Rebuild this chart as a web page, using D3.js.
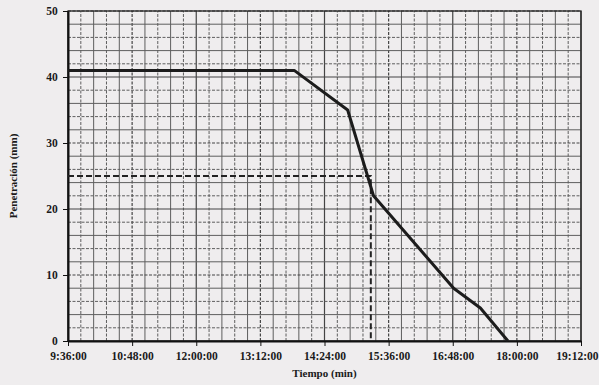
<!DOCTYPE html>
<html><head><meta charset="utf-8">
<script src="https://cdn.jsdelivr.net/npm/d3@7"></script>
<style>
html,body{margin:0;padding:0;background:#efedee;}
svg{display:block;}
</style></head>
<body>
<script>
const times = ["9:36:00","13:50:00","14:50:00","15:19:00","16:49:00","17:19:00","17:50:00"];
const penetration = [41, 41, 35, 22, 8, 5, 0];
const refTime = ["15:16:00"];
const refValue = [25];
const xTickLabels = ["9:36:00","10:48:00","12:00:00","13:12:00","14:24:00","15:36:00","16:48:00","18:00:00","19:12:00"];
const yTicks = [0,10,20,30,40,50];

const W = 599, H = 385;
const m = {left:68, right:18, top:11, bottom:44};
const parse = s => { const [h,mi,se] = s.split(":").map(Number); return new Date(2020,0,1,h,mi,se); };

const svg = d3.select("body").append("svg").attr("width",W).attr("height",H);
svg.append("rect").attr("width",W).attr("height",H).attr("fill","#efedee");

const x = d3.scaleTime().domain([parse(xTickLabels[0]), parse(xTickLabels[xTickLabels.length-1])]).range([m.left, W-m.right]);
const y = d3.scaleLinear().domain([0,50]).range([H-m.bottom, m.top]);

const g = svg.append("g");
const step = 14.4*60*1000;
const t0 = x.domain()[0].getTime(), t1 = x.domain()[1].getTime();
const vlines = d3.range(0, Math.round((t1-t0)/step)+1).map(i => new Date(t0 + i*step));
g.selectAll("line.v").data(vlines).join("line")
  .attr("x1",d=>x(d)).attr("x2",d=>x(d)).attr("y1",y(0)).attr("y2",y(50))
  .attr("stroke",(d,i)=> i%5===0 ? "#444" : "#5e5e5e")
  .attr("stroke-width",(d,i)=> i%5===0 ? 1.2 : 1)
  .attr("stroke-dasharray",(d,i)=> i%2===1 ? "3,1.5" : null);
const hvals = d3.range(0,51,2);
g.selectAll("line.h").data(hvals).join("line")
  .attr("x1",x.range()[0]).attr("x2",x.range()[1]).attr("y1",d=>y(d)).attr("y2",d=>y(d))
  .attr("stroke",d=> d%10===0 ? "#444" : "#5e5e5e")
  .attr("stroke-width",d=> d%10===0 ? 1.2 : 1)
  .attr("stroke-dasharray",d=> (d/2)%2===1 ? "3,1.5" : null);

g.append("rect").attr("x",x.range()[0]).attr("y",y(50)).attr("width",x.range()[1]-x.range()[0]).attr("height",y(0)-y(50))
  .attr("fill","none").attr("stroke","#222").attr("stroke-width",1.3);

const xAxis = d3.axisBottom(x).tickValues(xTickLabels.map(parse)).tickFormat((d,i)=>xTickLabels[i]).tickSize(5).tickSizeOuter(0);
const ax = svg.append("g").attr("transform",`translate(0,${y(0)})`).call(xAxis);
const yAxis = d3.axisLeft(y).tickValues(yTicks).tickSize(5).tickSizeOuter(0);
const ay = svg.append("g").attr("transform",`translate(${m.left},0)`).call(yAxis);
[ax,ay].forEach(a=>{
  a.select(".domain").attr("stroke","#111").attr("stroke-width",2);
  a.selectAll(".tick line").attr("stroke","#111");
  a.selectAll("text").attr("font-family","Liberation Serif, Times New Roman, serif").attr("font-size",11.5).attr("fill","#1a1a1a").attr("font-weight","bold");
});
ax.selectAll("text").attr("dy","0.95em");
ax.selectAll(".tick text").filter((d,i,n)=>i===n.length-1).attr("text-anchor","end").attr("x",17);
ay.selectAll("text").attr("dx","-0.2em");

const rt = parse(refTime[0]), rv = refValue[0];
svg.append("path").attr("d", d3.line()([[x.range()[0], y(rv)],[x(rt), y(rv)],[x(rt), y(0)]]))
  .attr("fill","none").attr("stroke","#222").attr("stroke-width",2).attr("stroke-dasharray","6,3");

const data = times.map((t,i)=>[parse(t), penetration[i]]);
svg.append("path").datum(data)
  .attr("d", d3.line().x(d=>x(d[0])).y(d=>y(d[1])))
  .attr("fill","none").attr("stroke","#1c1c1c").attr("stroke-width",3).attr("stroke-linejoin","round");

svg.append("text").attr("x",(x.range()[0]+x.range()[1])/2).attr("y",H-8).attr("text-anchor","middle")
  .attr("font-family","Liberation Serif, Times New Roman, serif").attr("font-size",11).attr("font-weight","bold").attr("fill","#1a1a1a")
  .text("Tiempo (min)");
svg.append("text").attr("transform",`translate(17,${(y(0)+y(50))/2}) rotate(-90)`).attr("text-anchor","middle")
  .attr("font-family","Liberation Serif, Times New Roman, serif").attr("font-size",11).attr("font-weight","bold").attr("fill","#1a1a1a")
  .text("Penetración (mm)");
</script>
</body></html>
